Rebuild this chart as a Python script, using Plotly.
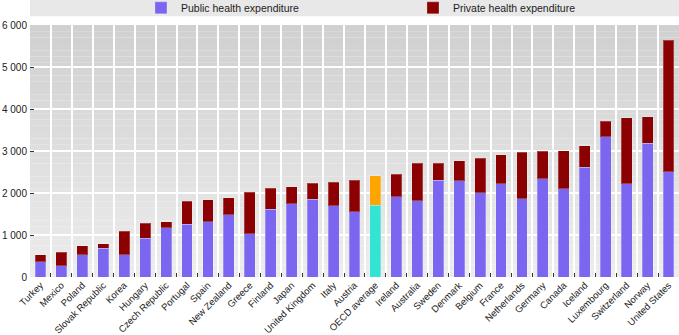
import plotly.graph_objects as go

countries = [
    "Turkey", "Mexico", "Poland", "Slovak Republic", "Korea", "Hungary",
    "Czech Republic", "Portugal", "Spain", "New Zealand", "Greece", "Finland",
    "Japan", "United Kingdom", "Italy", "Austria", "OECD average", "Ireland",
    "Australia", "Sweden", "Denmark", "Belgium", "France", "Netherlands",
    "Germany", "Canada", "Iceland", "Luxembourg", "Switzerland", "Norway",
    "United States",
]
public_exp = [
    365, 270, 524, 690, 532, 921, 1175, 1254, 1317, 1484, 1032, 1619,
    1746, 1857, 1698, 1556, 1714, 1905, 1817, 2302, 2294, 2008, 2222, 1865,
    2341, 2103, 2611, 3340, 2222, 3190, 2508,
]
private_exp = [
    159, 317, 222, 96, 555, 357, 135, 548, 524, 405, 984, 500,
    397, 381, 564, 746, 691, 547, 889, 404, 476, 825, 683, 1111,
    659, 905, 515, 374, 1571, 627, 3126,
]
y_ticks = [0, 1000, 2000, 3000, 4000, 5000, 6000]
highlight = "OECD average"

PUBLIC = "#7B66F2"
PRIVATE = "#8B0000"
PUBLIC_HL = "#33E3D4"
PRIVATE_HL = "#FFA500"
FONT = "Liberation Sans Narrow, Arial Narrow, Liberation Sans, Arial, sans-serif"

pub_colors = [PUBLIC_HL if c == highlight else PUBLIC for c in countries]
priv_colors = [PRIVATE_HL if c == highlight else PRIVATE for c in countries]

fig = go.Figure()
fig.add_trace(go.Bar(
    x=countries, y=public_exp, name="Public health expenditure",
    marker=dict(color=pub_colors, line=dict(width=1, color="rgba(255,255,255,0.25)")),
    width=0.52,
))
fig.add_trace(go.Bar(
    x=countries, y=private_exp, name="Private health expenditure",
    marker=dict(color=priv_colors, line=dict(width=1, color="rgba(255,255,255,0.25)")),
    width=0.52,
))

# soft vertical gradient behind the plotting area
shapes = []
n_bands = 40
for i in range(n_bands):
    t = i / (n_bands - 1)
    g = int(round(0xEC - (0xEC - 0xD0) * t))
    shapes.append(dict(
        type="rect", xref="paper", yref="paper", layer="below",
        x0=0, x1=1, y0=i / n_bands, y1=(i + 1) / n_bands,
        fillcolor=f"rgb({g},{g},{g})", line=dict(width=0),
    ))
# legend band across the top
shapes.append(dict(
    type="rect", xref="paper", yref="paper", layer="below",
    x0=0, x1=1, y0=1.035, y1=1.10,
    fillcolor="#E8E8E8", line=dict(width=0),
))

fig.update_layout(
    width=679, height=335,
    margin=dict(l=30, r=0, t=25, b=58, autoexpand=False),
    paper_bgcolor="white",
    plot_bgcolor="rgba(0,0,0,0)",
    barmode="stack",
    separators=". ",
    font=dict(family=FONT, size=11, color="#222222"),
    shapes=shapes,
    showlegend=True,
    legend=dict(
        orientation="h", traceorder="normal",
        x=0.171, xanchor="left", y=1.068, yanchor="middle",
        bgcolor="rgba(0,0,0,0)", entrywidth=227, entrywidthmode="pixels",
        font=dict(family=FONT, size=10.5, color="#222222"),
        itemclick=False, itemdoubleclick=False,
    ),
    xaxis=dict(
        type="category", tickangle=-45, tickson="boundaries",
        ticks="inside", ticklen=4, tickwidth=1, tickcolor="#333333",
        showgrid=True, gridcolor="white", gridwidth=2,
        showline=False, zeroline=False, automargin=False,
        tickfont=dict(family=FONT, size=9.5, color="#222222"),
        range=[-0.5, len(countries) - 0.5],
    ),
    yaxis=dict(
        range=[0, 6000], tickvals=y_ticks, tickformat=",d",
        ticks="inside", ticklen=4, tickwidth=1, tickcolor="#333333",
        showgrid=True, gridcolor="white", gridwidth=1.5,
        showline=False, zeroline=False, automargin=False,
        tickfont=dict(family=FONT, size=10, color="#222222"),
        ticklabelstandoff=2,
    ),
)

fig.write_html("out.html")
